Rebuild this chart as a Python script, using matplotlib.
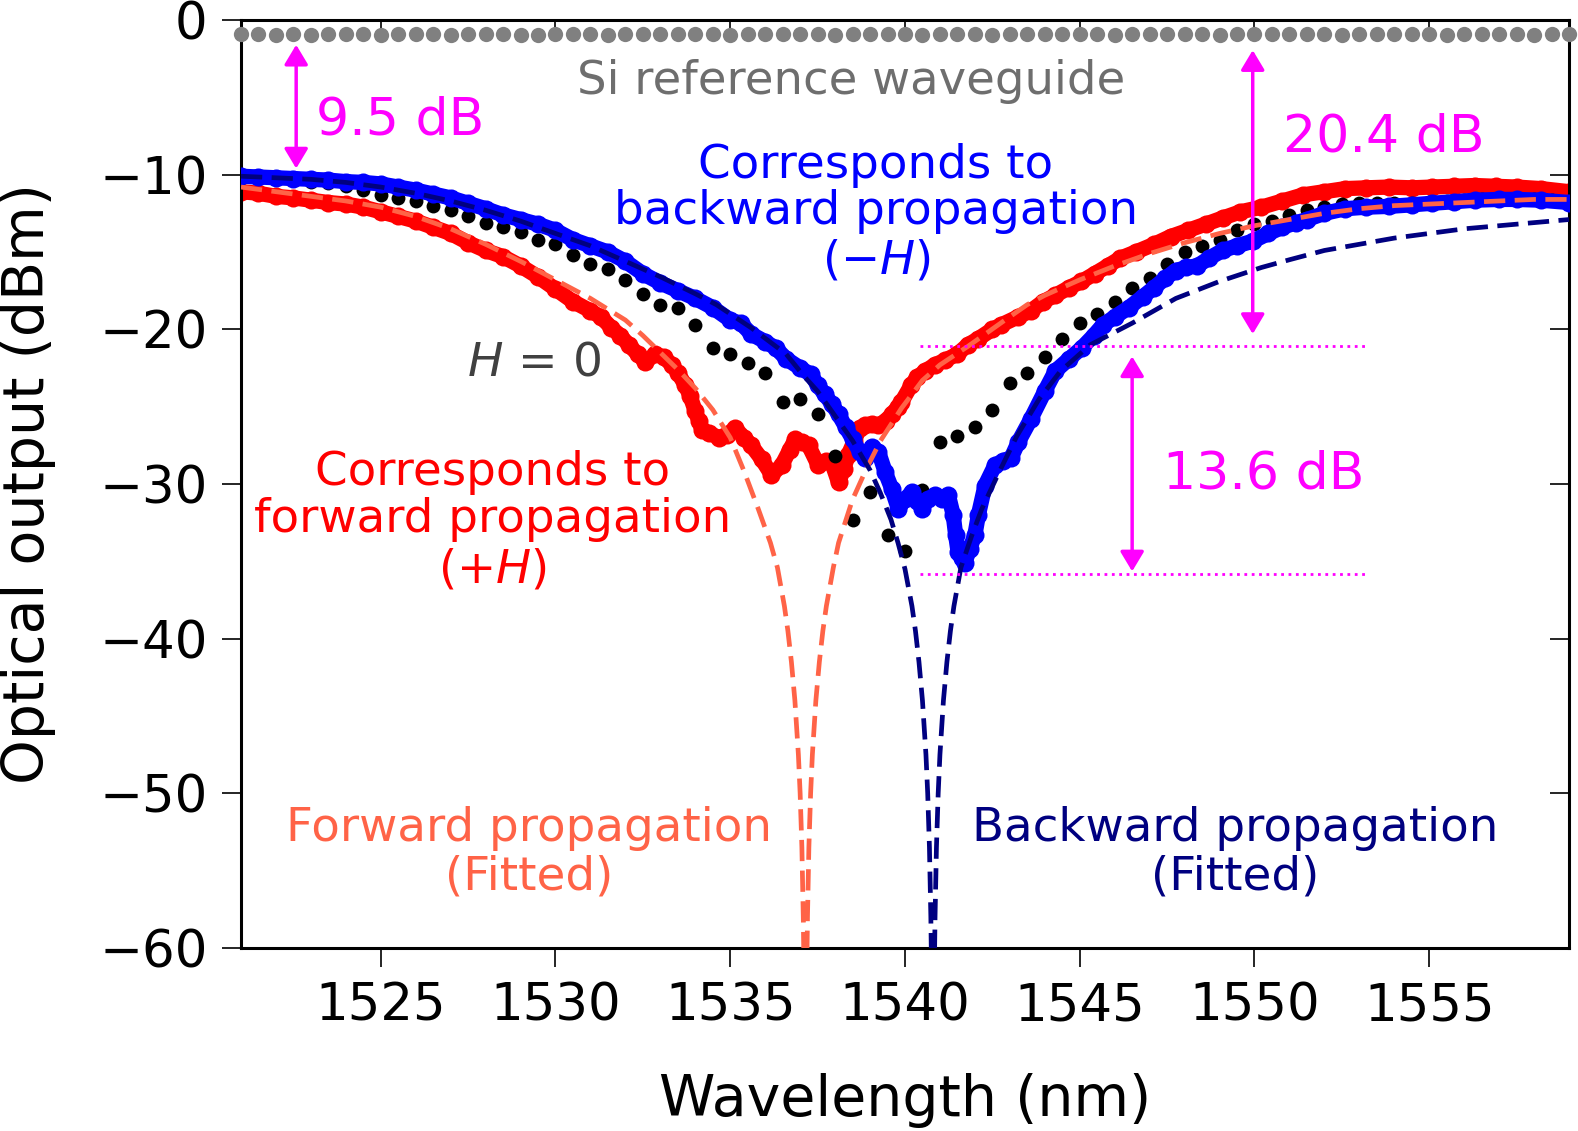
import matplotlib.pyplot as plt
import numpy as np

# sample grid of the point-by-point scans (0.5 nm step)
wl_dots = np.arange(1521.0, 1559.01, 0.5)

# Si reference waveguide (gray dots)
si_ref = [-0.9, -0.9, -0.95, -0.9, -0.95, -0.9, -0.9, -0.9, -0.95, -0.9,
          -0.9, -0.9, -0.95, -0.9, -0.9, -0.9, -0.95, -0.95, -0.9, -0.9,
          -0.9, -0.95, -0.9, -0.9, -0.9, -0.9, -0.9, -0.9, -0.95, -0.9,
          -0.9, -0.9, -0.9, -0.9, -0.95, -0.9, -0.9, -0.9, -0.9, -0.95,
          -0.9, -0.9, -0.9, -0.95, -0.9, -0.9, -0.9, -0.9, -0.9, -0.9,
          -0.95, -0.9, -0.9, -0.9, -0.9, -0.9, -0.95, -0.9, -0.9, -0.9,
          -0.9, -0.9, -0.9, -0.95, -0.9, -0.9, -0.9, -0.9, -0.9, -0.95,
          -0.9, -0.9, -0.9, -0.9, -0.95, -0.9, -0.9]

# H = 0 (black dots)
h_zero = [-10.2, -10.2, -10.3, -10.35, -10.45, -10.55, -10.75, -11.0, -11.3, -11.5,
          -11.7, -12.0, -12.3, -12.7, -13.1, -13.4, -13.7, -14.2, -14.5, -15.2,
          -15.8, -16.1, -16.8, -17.7, -18.4, -18.6, -19.7, -21.2, -21.6, -22.2,
          -22.8, -24.7, -24.5, -25.5, -28.2, -32.3, -30.5, -33.3, -34.3, -30.4,
          -27.3, -26.9, -26.3, -25.2, -23.5, -22.8, -21.8, -20.6, -19.6, -19.0,
          -18.2, -17.3, -16.7, -15.8, -15.0, -14.6, -14.2, -13.6, -13.2, -13.0,
          -12.6, -12.3, -12.1, -11.9, -11.8, -11.8, -11.8, -11.8, -11.75, -11.7,
          -11.65, -11.6, -11.6, -11.6, -11.6, -11.65, -11.75]

# -H : backward propagation (blue)
blue_wl = [1521.0, 1521.5, 1522.0, 1522.5, 1523.0, 1523.5, 1524.0, 1524.5, 1525.0, 1525.5,
           1526.0, 1526.5, 1527.0, 1527.5, 1528.0, 1528.5, 1529.0, 1529.5, 1530.0, 1530.5,
           1531.0, 1531.5, 1532.0, 1532.5, 1533.0, 1533.5, 1534.0, 1534.5, 1535.0, 1535.3,
           1535.6, 1536.0, 1536.3, 1536.6, 1537.0, 1537.3, 1537.5, 1537.7, 1537.9, 1538.1,
           1538.3, 1538.5, 1538.7, 1538.86, 1539.05, 1539.24, 1539.43, 1539.62, 1539.81, 1540.0,
           1540.2, 1540.35, 1540.49, 1540.65, 1540.86, 1541.05, 1541.24, 1541.38, 1541.45, 1541.52,
           1541.62, 1541.71, 1541.85, 1542.0, 1542.1, 1542.29, 1542.57, 1542.8, 1543.04, 1543.24,
           1543.6, 1544.0, 1544.3, 1544.7, 1545.06, 1545.4, 1545.67, 1546.0, 1546.4, 1546.8,
           1547.13, 1547.45, 1547.75, 1548.05, 1548.36, 1548.7, 1549.09, 1549.5, 1549.95, 1550.4,
           1550.8, 1551.2, 1551.5, 1552.0, 1552.6, 1553.2, 1553.85, 1554.5, 1555.07, 1555.7,
           1556.3, 1557.0, 1557.5, 1558.2, 1559.0]
blue_db = [-10.1, -10.15, -10.2, -10.25, -10.3, -10.35, -10.45, -10.5, -10.6, -10.8,
           -11.0, -11.25, -11.5, -11.85, -12.2, -12.6, -12.9, -13.2, -13.6, -14.2,
           -14.6, -15.0, -15.6, -16.4, -17.0, -17.5, -18.0, -18.6, -19.4, -19.6,
           -20.3, -20.8, -21.2, -21.9, -22.5, -22.9, -23.6, -24.2, -24.8, -25.5,
           -26.3, -27.1, -27.9, -28.3, -27.6, -27.9, -29.2, -30.3, -31.6, -31.0,
           -30.5, -31.1, -31.6, -31.0, -30.7, -31.0, -30.7, -32.0, -33.3, -34.4,
           -34.8, -35.1, -34.2, -33.3, -32.0, -30.1, -28.8, -28.5, -28.3, -27.3,
           -25.8, -24.0, -22.7, -21.9, -21.2, -20.4, -19.7, -19.2, -18.6, -17.9,
           -17.3, -16.7, -16.2, -16.0, -15.9, -15.4, -14.9, -14.6, -14.3, -13.8,
           -13.4, -13.1, -12.9, -12.5, -12.2, -12.1, -12.05, -11.95, -11.85, -11.75,
           -11.65, -11.6, -11.6, -11.65, -11.8]

# +H : forward propagation (red)
red_wl = [1521.0, 1521.5, 1522.0, 1522.5, 1523.0, 1523.5, 1524.0, 1524.5, 1525.0, 1525.5,
          1526.0, 1526.5, 1527.0, 1527.5, 1528.0, 1528.5, 1529.0, 1529.5, 1530.0, 1530.5,
          1531.0, 1531.3, 1531.6, 1531.85, 1532.1, 1532.35, 1532.57, 1532.86, 1533.1, 1533.33,
          1533.5, 1533.71, 1533.85, 1534.0, 1534.1, 1534.19, 1534.4, 1534.67, 1534.9, 1535.14,
          1535.4, 1535.6, 1535.9, 1536.18, 1536.47, 1536.7, 1536.86, 1537.05, 1537.24, 1537.52,
          1537.75, 1537.9, 1538.1, 1538.25, 1538.38, 1538.55, 1538.7, 1538.86, 1539.05, 1539.24,
          1539.45, 1539.62, 1539.8, 1539.9, 1540.18, 1540.35, 1540.57, 1540.85, 1541.14, 1541.5,
          1541.8, 1542.1, 1542.5, 1542.76, 1543.23, 1543.6, 1543.96, 1544.3, 1544.7, 1545.05,
          1545.43, 1545.8, 1546.16, 1546.6, 1547.13, 1547.6, 1548.1, 1548.6, 1549.09, 1549.6,
          1550.2, 1550.8, 1551.4, 1552.0, 1552.6, 1553.2, 1553.85, 1554.5, 1555.07, 1555.7,
          1556.3, 1556.9, 1557.5, 1558.2, 1559.0]
red_db = [-11.1, -11.2, -11.4, -11.5, -11.65, -11.8, -11.9, -12.1, -12.4, -12.7,
          -13.0, -13.4, -13.8, -14.4, -14.9, -15.3, -15.9, -16.6, -17.4, -18.2,
          -18.8, -19.2, -19.9, -20.4, -21.0, -21.6, -22.1, -21.6, -21.8, -22.3,
          -22.8, -23.6, -24.3, -25.3, -25.9, -26.5, -26.7, -27.0, -26.8, -26.4,
          -27.0, -27.5, -28.4, -29.4, -28.8, -27.8, -27.1, -27.3, -27.5, -28.8,
          -28.5, -28.6, -29.9, -29.0, -28.1, -27.2, -26.4, -26.2, -26.1, -26.2,
          -25.9, -25.5, -25.0, -24.7, -23.6, -23.1, -22.7, -22.3, -22.0, -21.6,
          -21.0, -20.6, -20.0, -19.7, -19.2, -18.8, -18.2, -17.8, -17.3, -16.9,
          -16.4, -15.9, -15.4, -15.0, -14.5, -14.0, -13.6, -13.2, -12.8, -12.4,
          -12.1, -11.7, -11.3, -11.1, -10.9, -10.85, -10.8, -10.85, -10.8, -10.75,
          -10.7, -10.75, -10.8, -10.9, -11.1]

# fitted forward propagation (dashed, tomato)
fwd_fit_wl = [1521.0, 1522.0, 1523.0, 1524.0, 1525.0, 1526.0, 1527.0, 1528.0, 1529.0, 1530.0,
              1531.0, 1532.0, 1532.5, 1533.0, 1533.5, 1534.0, 1534.5, 1535.0, 1535.4, 1535.8,
              1536.15, 1536.35, 1536.55, 1536.65, 1536.75, 1536.85, 1536.95, 1537.0, 1537.05, 1537.09,
              1537.11, 1537.19, 1537.21, 1537.25, 1537.3, 1537.35, 1537.45, 1537.55, 1537.65, 1537.75,
              1537.95, 1538.1, 1538.5, 1538.9, 1539.3, 1539.9, 1540.5, 1541.0, 1541.8, 1542.8,
              1543.5, 1544.0, 1545.0, 1546.0, 1547.0, 1548.0, 1549.0, 1550.0, 1551.0, 1552.0,
              1553.0, 1554.0, 1555.0, 1556.0, 1557.0, 1558.0, 1559.0]
fwd_fit_db = [-10.8, -11.1, -11.4, -11.7, -12.1, -12.7, -13.5, -14.5, -15.6, -16.8,
              -18.0, -19.4, -20.4, -21.5, -22.6, -23.8, -25.2, -27.0, -29.2, -31.6,
              -33.8, -35.4, -37.9, -39.5, -41.5, -44.0, -47.5, -50.0, -53.5, -58.0,
              -61.5, -61.5, -58.0, -53.5, -50.0, -47.5, -44.0, -41.5, -39.5, -37.9,
              -35.4, -33.8, -31.0, -29.0, -27.2, -25.1, -23.3, -22.3, -21.1, -19.5,
              -18.4, -17.8, -16.8, -15.9, -15.1, -14.4, -13.8, -13.3, -12.9, -12.5,
              -12.2, -12.0, -11.9, -11.8, -11.7, -11.6, -11.6]

# fitted backward propagation (dashed, navy)
bwd_fit_wl = [1521.0, 1522.0, 1523.0, 1524.0, 1525.0, 1526.0, 1527.0, 1528.0, 1529.0, 1530.0,
              1531.0, 1532.0, 1533.0, 1534.0, 1534.6, 1535.6, 1536.6, 1537.1, 1537.5, 1538.0,
              1538.5, 1539.0, 1539.3, 1539.6, 1539.8, 1540.0, 1540.2, 1540.3, 1540.4, 1540.5,
              1540.6, 1540.65, 1540.7, 1540.74, 1540.76, 1540.84, 1540.86, 1540.9, 1540.95, 1541.0,
              1541.1, 1541.2, 1541.3, 1541.4, 1541.6, 1541.9, 1542.2, 1542.7, 1543.2, 1543.84,
              1544.45, 1545.3, 1546.5, 1547.75, 1549.0, 1550.2, 1551.0, 1552.0, 1553.0, 1554.0,
              1555.0, 1556.0, 1557.0, 1558.0, 1559.0]
bwd_fit_db = [-10.1, -10.2, -10.3, -10.5, -10.8, -11.2, -11.7, -12.3, -13.0, -13.8,
              -14.6, -15.6, -16.6, -17.7, -18.4, -19.9, -21.6, -23.0, -24.0, -25.6,
              -27.2, -29.1, -30.6, -32.3, -33.8, -35.5, -37.9, -39.5, -41.5, -44.0,
              -47.5, -50.0, -53.5, -58.0, -61.5, -61.5, -58.0, -53.5, -50.0, -47.5,
              -44.0, -41.5, -39.5, -37.9, -35.4, -33.4, -31.6, -29.2, -26.9, -24.5,
              -22.7, -21.0, -19.6, -18.0, -16.9, -16.0, -15.5, -14.9, -14.5, -14.1,
              -13.8, -13.5, -13.3, -13.1, -12.9]

xticks = [1525, 1530, 1535, 1540, 1545, 1550, 1555]
yticks = [0, -10, -20, -30, -40, -50, -60]

MAG = '#FF00FF'

plt.rcParams['font.family'] = ['DejaVu Sans']
plt.rcParams['mathtext.fontset'] = 'dejavusans'

fig = plt.figure(figsize=(15.78, 11.31), dpi=100)
ax = fig.add_axes([0.1527, 0.1618, 0.8416, 0.8205])

ax.plot(red_wl, red_db, '-o', color='#FF0000', lw=11, ms=13, mew=0,
        solid_capstyle='round', solid_joinstyle='round', zorder=2)
ax.plot(wl_dots, h_zero, 'o', color='black', ms=10, mew=0, zorder=3)
ax.plot(blue_wl, blue_db, '-o', color='#0000FF', lw=11, ms=13, mew=0,
        solid_capstyle='round', solid_joinstyle='round', zorder=4)
ax.plot(fwd_fit_wl, fwd_fit_db, color='#FF6347', lw=3.4, dashes=(4.5, 2), zorder=5)
ax.plot(bwd_fit_wl, bwd_fit_db, color='#000080', lw=3.4, dashes=(4.5, 2), zorder=6)
ax.plot(wl_dots, si_ref, 'o', color='#808080', ms=11, mew=0, zorder=3, clip_on=False)

ax.set_xlim(1521.0, 1559.0)
ax.set_ylim(-60, 0)
ax.set_xticks(xticks)
ax.set_yticks(yticks)
ax.set_yticklabels([str(v).replace('-', '\u2212') for v in yticks])
ax.tick_params(direction='out', length=14, width=1.2, labelsize=37, pad=10)
for s in ax.spines.values():
    s.set_linewidth(2.2)

# inward ticks on top and right
top = ax.secondary_xaxis('top')
top.set_xticks(xticks)
top.tick_params(direction='in', length=14, width=1.2, labeltop=False)
right = ax.secondary_yaxis('right')
right.set_yticks(yticks)
right.tick_params(direction='in', length=14, width=1.2, labelright=False)

ax.set_xlabel('Wavelength (nm)', fontsize=41)
ax.set_ylabel('Optical output (dBm)', fontsize=41)
ax.xaxis.set_label_coords(0.5, -0.135)
ax.yaxis.set_label_coords(-0.139, 0.5)

# dB arrows
def darrow(x, y1, y2):
    ax.annotate('', xy=(x, y2), xytext=(x, y1),
                arrowprops=dict(arrowstyle='<|-|>,head_length=0.6,head_width=0.36',
                                color=MAG, lw=2.5, mutation_scale=20,
                                shrinkA=0, shrinkB=0), zorder=8)

darrow(1522.58, -1.6, -9.6)
darrow(1549.95, -1.95, -20.3)
darrow(1546.5, -21.75, -35.65)
ax.plot([1540.44, 1553.15], [-21.1, -21.1], ls=':', color=MAG, lw=2, zorder=7)
ax.plot([1540.44, 1553.15], [-35.8, -35.8], ls=':', color=MAG, lw=2, zorder=7)

ax.text(1523.15, -7.4, '9.5 dB', color=MAG, fontsize=37.5, zorder=9)
ax.text(1550.81, -8.5, '20.4 dB', color=MAG, fontsize=37.5, zorder=9)
ax.text(1547.38, -30.26, '13.6 dB', color=MAG, fontsize=37.5, zorder=9)

ax.text(1538.47, -4.78, 'Si reference waveguide', color='#6E6E6E', fontsize=33.5,
        ha='center')

fs = 33.7
ax.text(1539.17, -10.2, 'Corresponds to', color='#0000FF', fontsize=fs, ha='center', zorder=9)
ax.text(1539.17, -13.2, 'backward propagation', color='#0000FF', fontsize=fs, ha='center', zorder=9)
ax.text(1539.17, -16.4, '(\u2212$H$)', color='#0000FF', fontsize=fs, ha='center', zorder=9)

ax.text(1528.2, -30.07, 'Corresponds to', color='#FF0000', fontsize=fs, ha='center', zorder=9)
ax.text(1528.2, -33.1, 'forward propagation', color='#FF0000', fontsize=fs, ha='center', zorder=9)
ax.text(1528.2, -36.4, '(+$H$)', color='#FF0000', fontsize=fs, ha='center', zorder=9)

ax.text(1529.39, -23.0, '$H$ = 0', color='#404040', fontsize=34, ha='center', zorder=9)

ax.text(1529.24, -53.05, 'Forward propagation', color='#FF6347', fontsize=fs, ha='center')
ax.text(1529.24, -56.2, '(Fitted)', color='#FF6347', fontsize=fs, ha='center')
ax.text(1549.45, -53.05, 'Backward propagation', color='#000080', fontsize=fs, ha='center')
ax.text(1549.45, -56.2, '(Fitted)', color='#000080', fontsize=fs, ha='center')

fig.savefig('out.png', dpi=100)
